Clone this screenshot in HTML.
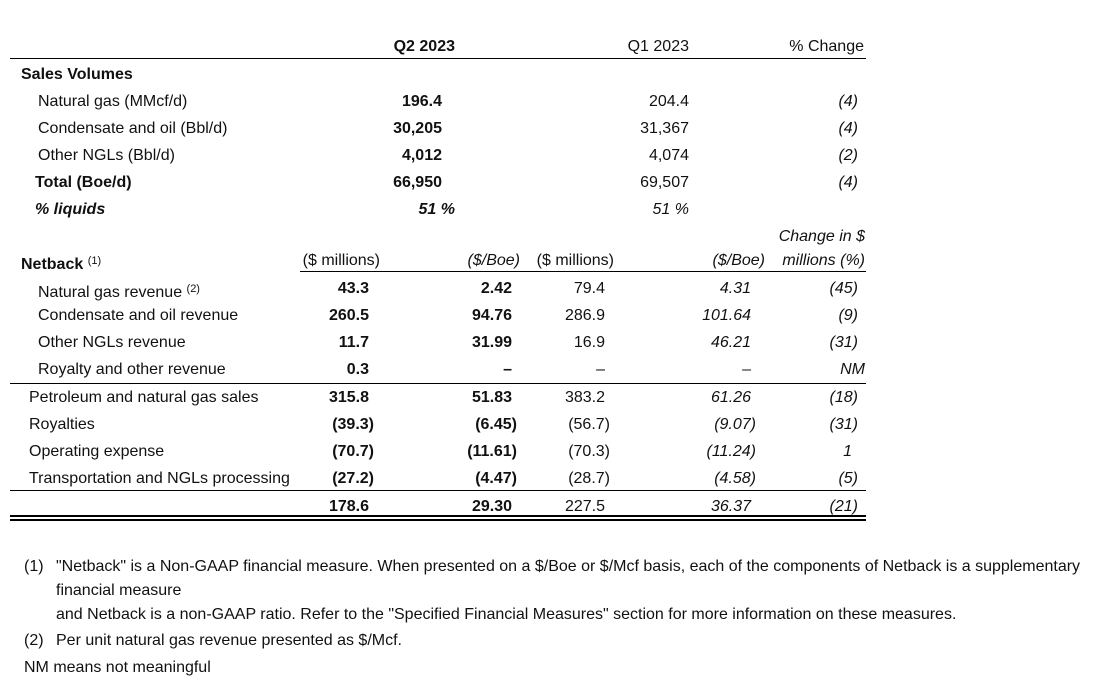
<!DOCTYPE html>
<html><head><meta charset="utf-8"><style>
body{margin:0;width:1095px;height:690px;background:#fff;position:relative;font-family:"Liberation Sans",Arial,sans-serif;font-size:16px;color:#111;overflow:hidden}
.t{position:absolute;line-height:18px;white-space:nowrap}
.r{text-align:right}
.b{font-weight:bold}
.i{font-style:italic}
.l{position:absolute;background:#000;height:1px}
sup{font-size:11px;vertical-align:5px}
</style></head><body>
<div class="l" style="left:10px;top:58px;width:856px"></div>
<div class="l" style="left:300px;top:271px;width:566px"></div>
<div class="l" style="left:10px;top:383px;width:856px"></div>
<div class="l" style="left:10px;top:490px;width:856px"></div>
<div class="l" style="left:10px;top:515px;width:856px;height:2px"></div>
<div class="l" style="left:10px;top:519px;width:856px;height:2px"></div>

<div class="t b r" style="right:640px;top:38px">Q2 2023</div>
<div class="t r" style="right:406px;top:38px">Q1 2023</div>
<div class="t r" style="right:231px;top:38px">% Change</div>

<div class="t b" style="left:21px;top:66px">Sales Volumes</div>
<div class="t" style="left:38px;top:93px">Natural gas (MMcf/d)</div>
<div class="t" style="left:38px;top:120px">Condensate and oil (Bbl/d)</div>
<div class="t" style="left:38px;top:147px">Other NGLs (Bbl/d)</div>
<div class="t b" style="left:35px;top:174px">Total (Boe/d)</div>
<div class="t b i" style="left:35px;top:201px">% liquids</div>

<div class="t b r" style="right:653px;top:93px">196.4</div>
<div class="t b r" style="right:653px;top:120px">30,205</div>
<div class="t b r" style="right:653px;top:147px">4,012</div>
<div class="t b r" style="right:653px;top:174px">66,950</div>
<div class="t b i r" style="right:640px;top:201px">51 %</div>
<div class="t r" style="right:406px;top:93px">204.4</div>
<div class="t r" style="right:406px;top:120px">31,367</div>
<div class="t r" style="right:406px;top:147px">4,074</div>
<div class="t r" style="right:406px;top:174px">69,507</div>
<div class="t i r" style="right:406px;top:201px">51 %</div>
<div class="t i r" style="right:237px;top:93px">(4)</div>
<div class="t i r" style="right:237px;top:120px">(4)</div>
<div class="t i r" style="right:237px;top:147px">(2)</div>
<div class="t i r" style="right:237px;top:174px">(4)</div>

<div class="t i r" style="right:230px;top:228px">Change in $</div>
<div class="t b" style="left:21px;top:252px">Netback <sup style="font-weight:normal">(1)</sup></div>
<div class="t r" style="right:715px;top:252px">($ millions)</div>
<div class="t i r" style="right:575px;top:252px">($/Boe)</div>
<div class="t r" style="right:481px;top:252px">($ millions)</div>
<div class="t i r" style="right:330px;top:252px">($/Boe)</div>
<div class="t i r" style="right:230px;top:252px">millions (%)</div>

<div class="t" style="left:38px;top:280px">Natural gas revenue <sup>(2)</sup></div>
<div class="t" style="left:38px;top:307px">Condensate and oil revenue</div>
<div class="t" style="left:38px;top:334px">Other NGLs revenue</div>
<div class="t" style="left:38px;top:361px">Royalty and other revenue</div>
<div class="t" style="left:29px;top:389px">Petroleum and natural gas sales</div>
<div class="t" style="left:29px;top:416px">Royalties</div>
<div class="t" style="left:29px;top:443px">Operating expense</div>
<div class="t" style="left:29px;top:470px">Transportation and NGLs processing</div>

<div class="t b r" style="right:726px;top:280px">43.3</div>
<div class="t b r" style="right:726px;top:307px">260.5</div>
<div class="t b r" style="right:726px;top:334px">11.7</div>
<div class="t b r" style="right:726px;top:361px">0.3</div>
<div class="t b r" style="right:726px;top:389px">315.8</div>
<div class="t b r" style="right:721px;top:416px">(39.3)</div>
<div class="t b r" style="right:721px;top:443px">(70.7)</div>
<div class="t b r" style="right:721px;top:470px">(27.2)</div>
<div class="t b r" style="right:726px;top:498px">178.6</div>

<div class="t b r" style="right:583px;top:280px">2.42</div>
<div class="t b r" style="right:583px;top:307px">94.76</div>
<div class="t b r" style="right:583px;top:334px">31.99</div>
<div class="t b r" style="right:583px;top:361px">–</div>
<div class="t b r" style="right:583px;top:389px">51.83</div>
<div class="t b r" style="right:578px;top:416px">(6.45)</div>
<div class="t b r" style="right:578px;top:443px">(11.61)</div>
<div class="t b r" style="right:578px;top:470px">(4.47)</div>
<div class="t b r" style="right:583px;top:498px">29.30</div>

<div class="t r" style="right:490px;top:280px">79.4</div>
<div class="t r" style="right:490px;top:307px">286.9</div>
<div class="t r" style="right:490px;top:334px">16.9</div>
<div class="t r" style="right:490px;top:361px">–</div>
<div class="t r" style="right:490px;top:389px">383.2</div>
<div class="t r" style="right:485px;top:416px">(56.7)</div>
<div class="t r" style="right:485px;top:443px">(70.3)</div>
<div class="t r" style="right:485px;top:470px">(28.7)</div>
<div class="t r" style="right:490px;top:498px">227.5</div>

<div class="t i r" style="right:344px;top:280px">4.31</div>
<div class="t i r" style="right:344px;top:307px">101.64</div>
<div class="t i r" style="right:344px;top:334px">46.21</div>
<div class="t i r" style="right:344px;top:361px">–</div>
<div class="t i r" style="right:344px;top:389px">61.26</div>
<div class="t i r" style="right:339px;top:416px">(9.07)</div>
<div class="t i r" style="right:339px;top:443px">(11.24)</div>
<div class="t i r" style="right:339px;top:470px">(4.58)</div>
<div class="t i r" style="right:344px;top:498px">36.37</div>

<div class="t i r" style="right:237px;top:280px">(45)</div>
<div class="t i r" style="right:237px;top:307px">(9)</div>
<div class="t i r" style="right:237px;top:334px">(31)</div>
<div class="t i r" style="right:230px;top:361px">NM</div>
<div class="t i r" style="right:237px;top:389px">(18)</div>
<div class="t i r" style="right:237px;top:416px">(31)</div>
<div class="t i r" style="right:243px;top:443px">1</div>
<div class="t i r" style="right:237px;top:470px">(5)</div>
<div class="t i r" style="right:237px;top:498px">(21)</div>

<div class="t" style="left:24px;top:558px">(1)</div>
<div class="t" style="left:56px;top:558px">"Netback" is a Non-GAAP financial measure. When presented on a $/Boe or $/Mcf basis, each of the components of Netback is a supplementary</div>
<div class="t" style="left:56px;top:582px">financial measure</div>
<div class="t" style="left:56px;top:606px">and Netback is a non-GAAP ratio. Refer to the "Specified Financial Measures" section for more information on these measures.</div>
<div class="t" style="left:24px;top:632px">(2)</div>
<div class="t" style="left:56px;top:632px">Per unit natural gas revenue presented as $/Mcf.</div>
<div class="t" style="left:24px;top:659px">NM means not meaningful</div>
</body></html>
